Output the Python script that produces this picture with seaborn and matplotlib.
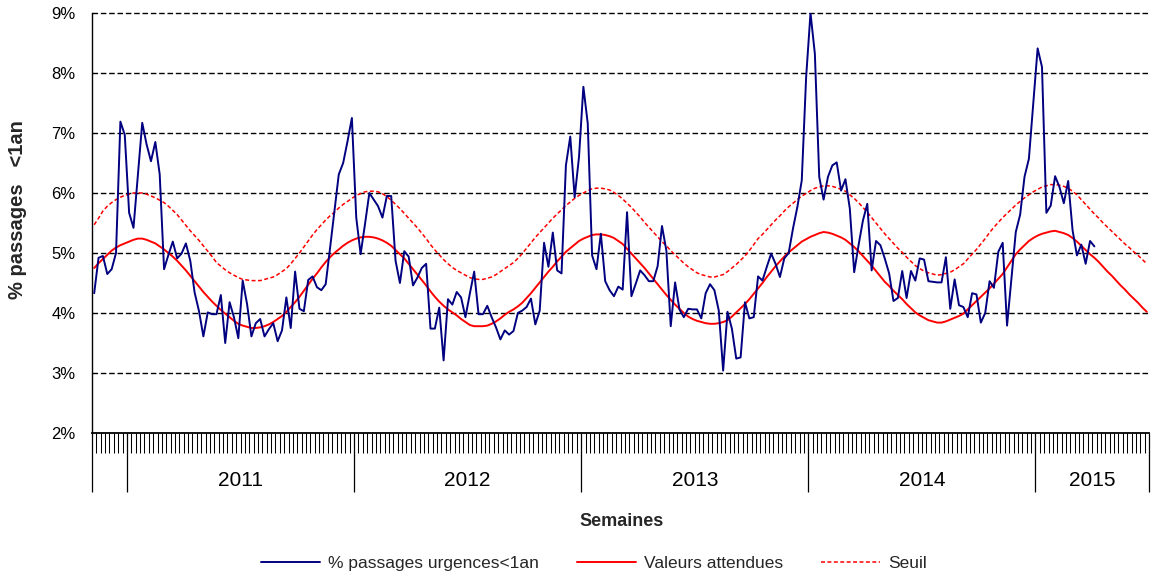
import numpy as np
import pandas as pd
import matplotlib
matplotlib.use("Agg")
import matplotlib.pyplot as plt
import matplotlib.transforms as mtransforms
from matplotlib.lines import Line2D
import seaborn as sns

# ---------------- data ----------------
series_labels = ["% passages urgences<1an", "Valeurs attendues", "Seuil"]
year_labels = ["2011", "2012", "2013", "2014", "2015"]
weeks_per_segment = [8, 52, 52, 52, 52, 26]   # 2010 (partial), 2011..2014, 2015 (partial)
y_ticks = [2, 3, 4, 5, 6, 7, 8, 9]

observed = [
    4.33, 4.92, 4.95, 4.65, 4.73, 5.00, 7.19, 6.97, 5.67, 5.42,
    6.30, 7.17, 6.81, 6.53, 6.85, 6.31, 4.73, 4.97, 5.19, 4.91,
    4.99, 5.16, 4.87, 4.34, 4.03, 3.61, 4.01, 3.98, 3.98, 4.30,
    3.50, 4.18, 3.93, 3.58, 4.54, 4.15, 3.61, 3.83, 3.90, 3.61,
    3.73, 3.83, 3.53, 3.71, 4.26, 3.75, 4.69, 4.07, 4.03, 4.55,
    4.61, 4.43, 4.38, 4.48, 5.08, 5.70, 6.31, 6.50, 6.86, 7.25,
    5.59, 4.98, 5.48, 6.00, 5.89, 5.78, 5.59, 5.95, 5.95, 4.87,
    4.50, 5.03, 4.94, 4.46, 4.59, 4.75, 4.82, 3.74, 3.74, 4.09,
    3.21, 4.23, 4.14, 4.35, 4.26, 3.93, 4.32, 4.69, 3.98, 3.98,
    4.12, 3.93, 3.76, 3.56, 3.71, 3.64, 3.70, 4.00, 4.04, 4.10,
    4.24, 3.81, 4.04, 5.17, 4.77, 5.34, 4.71, 4.66, 6.46, 6.94,
    5.93, 6.60, 7.77, 7.16, 4.96, 4.73, 5.32, 4.53, 4.38, 4.28,
    4.44, 4.39, 5.68, 4.28, 4.49, 4.71, 4.63, 4.53, 4.53, 4.78,
    5.45, 5.04, 3.78, 4.51, 4.06, 3.93, 4.07, 4.06, 4.06, 3.91,
    4.33, 4.48, 4.38, 4.04, 3.04, 4.02, 3.74, 3.24, 3.26, 4.18,
    3.91, 3.93, 4.61, 4.54, 4.77, 4.99, 4.82, 4.60, 4.91, 5.00,
    5.41, 5.77, 6.21, 7.93, 9.00, 8.32, 6.27, 5.89, 6.27, 6.46,
    6.51, 6.04, 6.23, 5.74, 4.68, 5.13, 5.54, 5.82, 4.71, 5.20,
    5.13, 4.91, 4.66, 4.20, 4.25, 4.70, 4.25, 4.70, 4.54, 4.91,
    4.89, 4.53, 4.52, 4.51, 4.51, 4.93, 4.07, 4.56, 4.13, 4.10,
    3.93, 4.33, 4.31, 3.84, 4.00, 4.53, 4.42, 5.02, 5.17, 3.79,
    4.57, 5.35, 5.64, 6.27, 6.57, 7.49, 8.41, 8.10, 5.67, 5.79,
    6.28, 6.10, 5.83, 6.20, 5.38, 4.96, 5.14, 4.82, 5.20, 5.11,
]

expected = [
    4.75, 4.83, 4.90, 4.97, 5.04, 5.09, 5.13, 5.16, 5.19, 5.22,
    5.24, 5.24, 5.22, 5.19, 5.16, 5.11, 5.06, 5.00, 4.94, 4.87,
    4.79, 4.71, 4.62, 4.53, 4.44, 4.35, 4.27, 4.19, 4.12, 4.05,
    3.99, 3.93, 3.87, 3.82, 3.79, 3.77, 3.75, 3.75, 3.76, 3.78,
    3.81, 3.85, 3.90, 3.95, 4.02, 4.10, 4.18, 4.27, 4.37, 4.47,
    4.57, 4.66, 4.76, 4.85, 4.93, 5.00, 5.06, 5.12, 5.17, 5.21,
    5.24, 5.26, 5.27, 5.27, 5.26, 5.24, 5.21, 5.17, 5.12, 5.05,
    4.98, 4.91, 4.82, 4.73, 4.64, 4.55, 4.46, 4.36, 4.27, 4.19,
    4.12, 4.06, 4.01, 3.96, 3.90, 3.85, 3.80, 3.78, 3.78, 3.78,
    3.79, 3.82, 3.86, 3.91, 3.97, 4.02, 4.06, 4.11, 4.17, 4.25,
    4.33, 4.42, 4.51, 4.60, 4.69, 4.77, 4.86, 4.94, 5.02, 5.08,
    5.14, 5.20, 5.24, 5.27, 5.30, 5.31, 5.31, 5.30, 5.28, 5.25,
    5.20, 5.15, 5.07, 4.99, 4.91, 4.83, 4.75, 4.66, 4.57, 4.48,
    4.39, 4.30, 4.22, 4.14, 4.07, 4.00, 3.94, 3.90, 3.87, 3.85,
    3.83, 3.82, 3.82, 3.83, 3.85, 3.88, 3.94, 4.01, 4.08, 4.15,
    4.23, 4.32, 4.41, 4.50, 4.60, 4.69, 4.78, 4.86, 4.94, 5.01,
    5.07, 5.13, 5.19, 5.23, 5.27, 5.30, 5.33, 5.35, 5.34, 5.32,
    5.29, 5.26, 5.22, 5.16, 5.10, 5.03, 4.95, 4.87, 4.79, 4.70,
    4.61, 4.52, 4.45, 4.37, 4.30, 4.23, 4.15, 4.08, 4.01, 3.96,
    3.92, 3.88, 3.86, 3.84, 3.84, 3.86, 3.89, 3.92, 3.95, 3.99,
    4.06, 4.13, 4.20, 4.27, 4.34, 4.41, 4.49, 4.57, 4.65, 4.76,
    4.87, 4.98, 5.06, 5.13, 5.20, 5.25, 5.29, 5.32, 5.34, 5.36,
    5.37, 5.35, 5.33, 5.30, 5.25, 5.19, 5.12, 5.05, 4.98, 4.92,
    4.85, 4.77, 4.69, 4.62, 4.54, 4.46, 4.39, 4.31, 4.24, 4.17,
    4.09, 4.02,
]

threshold = [
    5.47, 5.58, 5.70, 5.78, 5.84, 5.89, 5.93, 5.96, 5.98, 6.00,
    6.00, 6.00, 5.98, 5.95, 5.92, 5.88, 5.84, 5.78, 5.71, 5.64,
    5.55, 5.46, 5.37, 5.29, 5.21, 5.12, 5.03, 4.94, 4.84, 4.78,
    4.72, 4.67, 4.63, 4.59, 4.56, 4.55, 4.54, 4.54, 4.54, 4.56,
    4.58, 4.60, 4.64, 4.69, 4.74, 4.82, 4.91, 5.00, 5.10, 5.20,
    5.30, 5.39, 5.47, 5.55, 5.62, 5.68, 5.75, 5.81, 5.86, 5.91,
    5.96, 5.99, 6.02, 6.03, 6.03, 6.02, 5.99, 5.94, 5.88, 5.81,
    5.74, 5.66, 5.58, 5.50, 5.42, 5.33, 5.24, 5.14, 5.05, 4.97,
    4.89, 4.82, 4.76, 4.71, 4.67, 4.63, 4.59, 4.57, 4.56, 4.56,
    4.58, 4.60, 4.64, 4.69, 4.74, 4.79, 4.84, 4.91, 4.99, 5.08,
    5.17, 5.26, 5.34, 5.42, 5.50, 5.58, 5.65, 5.72, 5.79, 5.85,
    5.91, 5.96, 6.00, 6.04, 6.07, 6.08, 6.08, 6.07, 6.05, 6.01,
    5.96, 5.90, 5.83, 5.76, 5.68, 5.60, 5.51, 5.43, 5.35, 5.27,
    5.19, 5.12, 5.04, 4.97, 4.90, 4.83, 4.77, 4.72, 4.67, 4.64,
    4.62, 4.60, 4.60, 4.62, 4.64, 4.69, 4.75, 4.81, 4.88, 4.95,
    5.04, 5.14, 5.24, 5.31, 5.39, 5.47, 5.55, 5.62, 5.70, 5.77,
    5.83, 5.89, 5.95, 5.99, 6.04, 6.08, 6.10, 6.12, 6.12, 6.11,
    6.09, 6.06, 6.03, 5.97, 5.91, 5.84, 5.76, 5.68, 5.59, 5.50,
    5.41, 5.32, 5.24, 5.16, 5.08, 5.01, 4.93, 4.86, 4.79, 4.74,
    4.70, 4.67, 4.65, 4.63, 4.64, 4.66, 4.68, 4.72, 4.77, 4.82,
    4.90, 4.98, 5.06, 5.15, 5.24, 5.34, 5.43, 5.51, 5.59, 5.66,
    5.73, 5.80, 5.86, 5.92, 5.97, 6.02, 6.06, 6.10, 6.12, 6.14,
    6.14, 6.13, 6.11, 6.08, 6.03, 5.97, 5.89, 5.81, 5.73, 5.65,
    5.58, 5.50, 5.43, 5.36, 5.29, 5.22, 5.15, 5.09, 5.02, 4.96,
    4.89, 4.82,
]

# ---------------- styling ----------------
sns.set_theme(style="white")
plt.rcParams["font.family"] = ["Liberation Sans", "DejaVu Sans"]

n_weeks = sum(weeks_per_segment)
x_all = np.arange(n_weeks) + 0.5
df_obs = pd.DataFrame({"x": x_all[:len(observed)], "y": observed})
df_exp = pd.DataFrame({"x": x_all, "y": expected})
df_thr = pd.DataFrame({"x": x_all, "y": threshold})

W, H = 1159, 575
fig = plt.figure(figsize=(W / 100, H / 100), dpi=100)
ax = fig.add_axes([92 / W, 1 - 433 / H, (1149 - 92) / W, 420 / H])

dash_thr = (0, (2.6, 1.6))
sns.lineplot(data=df_thr, x="x", y="y", ax=ax, color="#FF0000", lw=1.1,
             linestyle=dash_thr, label=series_labels[2])
sns.lineplot(data=df_exp, x="x", y="y", ax=ax, color="#FF0000", lw=1.4,
             label=series_labels[1])
sns.lineplot(data=df_obs, x="x", y="y", ax=ax, color="#000080", lw=1.4,
             label=series_labels[0])

ax.set_xlim(0, n_weeks)
ax.set_ylim(y_ticks[0], y_ticks[-1])
ax.set_yticks(y_ticks)
ax.set_yticklabels([f"{v}%" for v in y_ticks])
for v in y_ticks[1:]:
    ax.axhline(v, color="black", lw=1.0, linestyle=(0, (4, 2)), zorder=0.5,
               clip_on=False)

# x axis: boundary ticks (long) and week ticks (short)
bounds = np.concatenate([[0], np.cumsum(weeks_per_segment)])
ax.set_xticks(bounds)
ax.set_xticklabels([""] * len(bounds))
ax.set_xticks(np.arange(n_weeks + 1), minor=True)
ax.tick_params(axis="x", which="major", direction="out", length=42.5, width=0.9,
               color="black", bottom=True)
ax.tick_params(axis="x", which="minor", direction="out", length=14.5, width=0.75,
               color="black", bottom=True)
ax.tick_params(axis="y", which="major", length=0, pad=12, labelsize=12,
               labelcolor="black")

trans = mtransforms.blended_transform_factory(ax.transData, fig.transFigure)
for k, lab in enumerate(year_labels):
    xc = (bounds[k + 1] + bounds[k + 2]) / 2
    ax.text(xc, 1 - 481 / H, lab, transform=trans, ha="center", va="center",
            fontsize=15, color="black")

for side in ["top", "right"]:
    ax.spines[side].set_visible(False)
ax.spines["left"].set_color("black")
ax.spines["left"].set_linewidth(1.0)
ax.spines["bottom"].set_color("black")
ax.spines["bottom"].set_linewidth(1.3)

ax.set_xlabel("")
ax.set_ylabel("")
fig.text(622 / W, 1 - 521 / H, "Semaines", ha="center", va="center",
         fontsize=13, fontweight="bold")
fig.text(18 / W, 1 - 210 / H, "% passages   <1an", ha="center", va="center",
         rotation=90, fontsize=14.5, fontweight="bold")

ax.get_legend().remove()
handles = [
    Line2D([], [], color="#000080", lw=1.4),
    Line2D([], [], color="#FF0000", lw=1.4),
    Line2D([], [], color="#FF0000", lw=1.1, linestyle=dash_thr),
]
fig.legend(handles, series_labels, loc="center", bbox_to_anchor=(594 / W, 1 - 563 / H),
           ncol=3, frameon=False, fontsize=12.5, handlelength=3.4,
           handletextpad=0.45, columnspacing=2.2)

fig.savefig("out.png", dpi=100)
